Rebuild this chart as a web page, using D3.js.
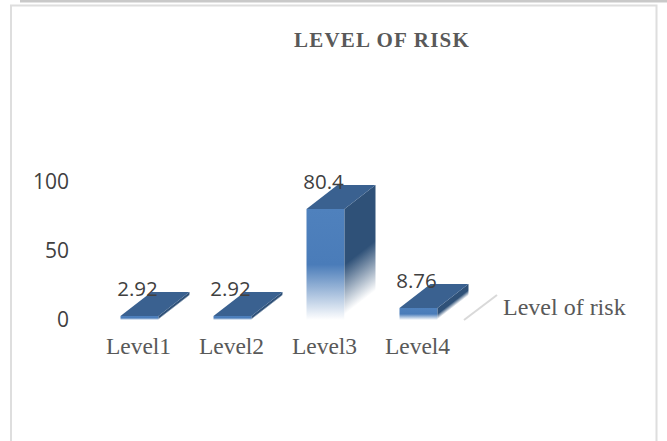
<!DOCTYPE html>
<html>
<head>
<meta charset="utf-8">
<script src="https://d3js.org/d3.v7.min.js"></script>
<style>
  html, body { margin: 0; padding: 0; background: #fff; }
  svg { display: block; }
  .serif { font-family: "Liberation Serif", serif; fill: #595959; }
  .sans { font-family: "Open Sans", sans-serif; fill: #404040; }
</style>
</head>
<body>
<svg id="chart" width="667" height="441"></svg>
<script>
const categories = ['Level1', 'Level2', 'Level3', 'Level4']
const values = [2.92, 2.92, 80.4, 8.76]
const yTicks = [0, 50, 100]
const seriesName = 'Level of risk'
const title = 'LEVEL OF RISK'

const svg = d3.select('#chart')
const defs = svg.append('defs')

// fake 3d depth of the columns, in pixels
const depthX = 31
const depthY = -24
const barWidth = 38

const x = d3.scaleBand().domain(categories).range([93, 465]).paddingInner(0).paddingOuter(0)
const y = d3.scaleLinear().domain([0, 100]).range([320, 182])

// frame, the bottom edge is cropped off in the source
svg.append('rect').attr('x', 20).attr('y', 0).attr('width', 647).attr('height', 2.5).attr('fill', '#c9c9c9')
svg.append('path')
  .attr('d', 'M11,441V5.5H656.5V441')
  .attr('fill', 'none')
  .attr('stroke', '#dedede')
  .attr('stroke-width', 2)

svg.append('text')
  .attr('class', 'serif')
  .attr('x', 382)
  .attr('y', 47)
  .attr('text-anchor', 'middle')
  .style('font-size', '21px')
  .style('font-weight', 'bold')
  .style('letter-spacing', '1.2px')
  .text(title)

const yAxis = d3.axisLeft(y).tickValues(yTicks).tickSize(0).tickPadding(0)
svg.append('g')
  .attr('transform', 'translate(69,0)')
  .call(yAxis)
  .call(g => g.select('.domain').remove())
  .call(g => g.selectAll('text').attr('class', 'sans').style('font-size', '21px'))

const xAxis = d3.axisBottom(x).tickSize(0).tickPadding(0)
svg.append('g')
  .attr('transform', 'translate(-1,337)')
  .call(xAxis)
  .call(g => g.select('.domain').remove())
  .call(g => g.selectAll('text').attr('class', 'serif').style('font-size', '23.5px'))

const bars = svg.selectAll('.bar')
  .data(categories.map((name, i) => ({ name, value: values[i], i })))
  .join('g')
  .attr('class', 'bar')

const left = d => x(d.name) + (x.bandwidth() - barWidth) / 2

bars.each(function (d) {
  const x0 = left(d)
  const x1 = x0 + barWidth
  const top = y(d.value)
  const base = y(0)

  const front = defs.append('linearGradient')
    .attr('id', `front${d.i}`)
    .attr('x1', 0).attr('y1', 0).attr('x2', 0).attr('y2', 1)
  front.append('stop').attr('offset', 0).attr('stop-color', '#4f81bd')
  front.append('stop').attr('offset', 0.5).attr('stop-color', '#4a7cb9')
  front.append('stop').attr('offset', 1).attr('stop-color', '#ffffff')

  // the side fades along the shear of the face, not straight down
  const len = Math.hypot(depthX, depthY)
  const nx = -depthY / len
  const ny = depthX / len
  const h = base - top
  const side = defs.append('linearGradient')
    .attr('id', `side${d.i}`)
    .attr('gradientUnits', 'userSpaceOnUse')
    .attr('x1', x1).attr('y1', top)
    .attr('x2', x1 + nx * h * ny).attr('y2', top + ny * h * ny)
  side.append('stop').attr('offset', 0).attr('stop-color', '#2f5178')
  side.append('stop').attr('offset', 0.5).attr('stop-color', '#2f5178')
  side.append('stop').attr('offset', 0.95).attr('stop-color', '#ffffff')

  const g = d3.select(this)
  g.append('path')
    .attr('d', d3.line()([[x0, top], [x1, top], [x1, base], [x0, base]]))
    .attr('fill', `url(#front${d.i})`)
  g.append('path')
    .attr('d', d3.line()([[x1, top], [x1 + depthX, top + depthY], [x1 + depthX, base + depthY], [x1, base]]))
    .attr('fill', `url(#side${d.i})`)
  g.append('path')
    .attr('d', d3.line()([[x0, top], [x1, top], [x1 + depthX, top + depthY], [x0 + depthX, top + depthY]]))
    .attr('fill', '#3a6190')
  g.append('text')
    .attr('class', 'sans')
    .attr('x', (x0 + x1) / 2 - 2)
    .attr('y', top - 20)
    .attr('text-anchor', 'middle')
    .style('font-size', '20.5px')
    .text(d3.format('')(d.value))
})

// legend key, a washed out column seen edge on
svg.append('path')
  .attr('d', 'M464,320L497,295')
  .attr('stroke', '#d9d9d9')
  .attr('stroke-width', 2)
svg.append('text')
  .attr('class', 'serif')
  .attr('x', 503)
  .attr('y', 315)
  .style('font-size', '24px')
  .text(seriesName)
</script>
</body>
</html>
